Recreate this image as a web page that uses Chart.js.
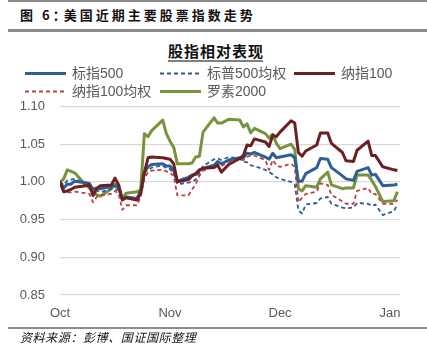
<!DOCTYPE html>
<html><head><meta charset="utf-8">
<script src="https://cdn.jsdelivr.net/npm/chart.js@4.4.1/dist/chart.umd.min.js"></script>
<style>
html,body{margin:0;padding:0;background:#fff;}
#wrap{position:relative;width:427px;height:356px;overflow:hidden;background:#fff;}
#cv{position:absolute;left:0;top:0;}
.hr{position:absolute;left:8px;width:419px;background:#8c8c8c;}
#t1{position:absolute;left:20px;top:5px;font:700 13px "Noto Sans CJK SC";letter-spacing:3px;color:#111;line-height:20px;white-space:nowrap;}
#t2{position:absolute;left:168px;top:41px;font:700 15px "Noto Sans CJK SC";letter-spacing:1px;color:#111;line-height:20px;white-space:nowrap;}
#t2u{position:absolute;left:168px;top:60px;width:95px;height:2px;background:#808080;}
.lg{position:absolute;font:14px "Liberation Sans","Noto Sans CJK SC",sans-serif;color:#595959;line-height:16px;white-space:nowrap;}
.lg svg{position:absolute;top:0;}
#src{position:absolute;left:20px;top:329px;font:italic 12px "Noto Sans CJK SC";letter-spacing:0.6px;color:#111;line-height:16px;white-space:nowrap;}
</style></head>
<body>
<div id="wrap">
<div class="hr" style="top:0;height:1.5px;"></div>
<div id="t1">图 6<span style="letter-spacing:-2px">：</span>美国近期主要股票指数走势</div>
<div class="hr" style="top:29px;height:2.5px;"></div>
<div id="t2">股指相对表现</div>
<div id="t2u"></div>
<canvas id="cv" width="427" height="356"></canvas>
<div id="legend"></div>
<div class="hr" style="top:326.5px;height:2px;"></div>
<div id="src">资料来源：彭博、国证国际整理</div>
</div>
<script>
// ---- data ----
const dates = [
 '2024-10-14','2024-10-15','2024-10-16','2024-10-17','2024-10-18','2024-10-21','2024-10-22','2024-10-23','2024-10-24','2024-10-25','2024-10-28','2024-10-29','2024-10-30','2024-10-31',
 '2024-11-01','2024-11-04','2024-11-05','2024-11-06','2024-11-07','2024-11-08','2024-11-11','2024-11-12','2024-11-13','2024-11-14','2024-11-15','2024-11-18','2024-11-19','2024-11-20','2024-11-21','2024-11-22','2024-11-25','2024-11-26','2024-11-27','2024-11-29',
 '2024-12-02','2024-12-03','2024-12-04','2024-12-05','2024-12-06','2024-12-09','2024-12-10','2024-12-11','2024-12-12','2024-12-13','2024-12-16','2024-12-17','2024-12-18','2024-12-19','2024-12-20','2024-12-23','2024-12-24','2024-12-26','2024-12-27','2024-12-30','2024-12-31',
 '2025-01-02','2025-01-03','2025-01-06','2025-01-07','2025-01-08','2025-01-10','2025-01-13','2025-01-14'
];
const spx = [
 1.000,0.992,0.997,0.997,1.001,0.999,0.998,0.990,0.992,0.991,0.994,0.995,0.992,0.977,
 0.980,0.978,0.988,1.013,1.020,1.023,1.024,1.021,1.021,1.015,1.001,1.006,1.009,1.010,1.015,1.018,1.022,1.027,1.024,1.029,
 1.032,1.032,1.038,1.037,1.039,1.033,1.030,1.038,1.032,1.033,1.036,1.032,1.001,1.001,1.011,1.019,1.031,1.030,1.019,1.008,1.004,
 1.002,1.014,1.019,1.009,1.010,0.995,0.996,0.997
];
const spxEW = [
 1.000,0.996,1.002,1.003,1.004,0.997,0.994,0.990,0.989,0.986,0.991,0.990,0.989,0.976,
 0.979,0.978,0.990,1.013,1.015,1.019,1.022,1.018,1.017,1.012,0.997,0.999,1.000,1.003,1.012,1.021,1.030,1.031,1.029,1.033,
 1.031,1.027,1.026,1.022,1.021,1.016,1.013,1.010,1.006,1.004,1.000,0.997,0.962,0.958,0.970,0.972,0.978,0.980,0.971,0.966,0.965,
 0.966,0.972,0.971,0.968,0.970,0.956,0.961,0.970
];
const ndx = [
 1.000,0.987,0.988,0.990,0.993,0.995,0.996,0.982,0.991,0.995,0.996,1.005,0.996,0.976,
 0.979,0.976,0.985,1.012,1.032,1.033,1.032,1.031,1.030,1.024,1.000,1.003,1.008,1.011,1.016,1.018,1.019,1.022,1.013,1.023,
 1.031,1.035,1.049,1.048,1.057,1.053,1.047,1.062,1.060,1.066,1.081,1.078,1.039,1.034,1.041,1.049,1.065,1.065,1.051,1.039,1.028,
 1.027,1.042,1.054,1.035,1.035,1.020,1.016,1.015
];
const ndxEW = [
 1.000,0.988,0.986,0.986,0.987,0.985,0.984,0.973,0.980,0.982,0.984,0.988,0.984,0.963,
 0.969,0.969,0.980,1.004,1.013,1.015,1.016,1.014,1.012,1.008,0.982,0.982,0.990,0.997,1.008,1.015,1.020,1.023,1.021,1.027,
 1.030,1.029,1.033,1.035,1.035,1.029,1.016,1.029,1.022,1.020,1.024,1.020,0.973,0.979,0.984,0.987,0.998,0.996,0.983,0.974,0.971,
 0.971,0.988,0.992,0.984,0.984,0.971,0.971,0.976
];
const rut = [
 1.000,1.004,1.016,1.014,1.012,0.996,0.992,0.987,0.983,0.981,0.991,0.997,0.992,0.977,
 0.985,0.987,0.989,1.064,1.060,1.068,1.082,1.064,1.054,1.046,1.024,1.024,1.025,1.033,1.034,1.066,1.085,1.078,1.078,1.083,
 1.082,1.073,1.077,1.065,1.071,1.064,1.058,1.063,1.051,1.044,1.050,1.043,0.991,0.988,0.995,0.993,1.004,1.013,0.996,0.991,0.992,
 0.992,1.009,1.009,1.002,0.994,0.974,0.975,0.987
];
const seriesNames = ['标指500','标普500均权','纳指100','纳指100均权','罗素2000'];
const monthLabels = ['Oct','Nov','Dec','Jan'];
const monthTickDates = ['2024-10-14','2024-11-13','2024-12-13','2025-01-12'];
const yTicks = [0.85,0.90,0.95,1.00,1.05,1.10];

// ---- helpers ----
const base = Date.parse(dates[0] + 'T00:00:00Z');
const dayOf = s => (Date.parse(s + 'T00:00:00Z') - base) / 86400000;
const xs = dates.map(dayOf);
const pts = arr => arr.map((v, i) => ({x: xs[i], y: v}));
const tickDays = monthTickDates.map(dayOf);

const styles = [
 {color:'#2f5f94', width:3, dash:[]},
 {color:'#2d5a98', width:1.8, dash:[4,3]},
 {color:'#6d2020', width:3, dash:[]},
 {color:'#bb4341', width:1.8, dash:[4,3]},
 {color:'#77933c', width:3, dash:[]}
];
const seriesData = [spx, spxEW, ndx, ndxEW, rut];
const drawOrder = [2, 4, 1, 3, 5]; // lower = on top

const datasets = seriesData.map((arr, i) => ({
  label: seriesNames[i],
  data: pts(arr),
  borderColor: styles[i].color,
  borderWidth: styles[i].width,
  borderDash: styles[i].dash,
  pointRadius: 0,
  tension: 0,
  fill: false,
  order: drawOrder[i],
  borderJoinStyle: 'round',
  borderCapStyle: 'butt'
}));

const tickFont = {family: '"Liberation Sans", Arial, sans-serif', size: 13};

new Chart(document.getElementById('cv'), {
  type: 'line',
  data: {datasets},
  options: {
    responsive: false,
    animation: false,
    devicePixelRatio: 1,
    layout: {padding: {left: 0, right: 27, top: 106.5, bottom: 0}},
    plugins: {legend: {display: false}, tooltip: {enabled: false}},
    scales: {
      x: {
        type: 'linear', min: 0, max: 92.7,
        grid: {display: false}, border: {display: false},
        afterBuildTicks: s => { s.ticks = tickDays.map(v => ({value: v})); },
        afterFit: s => { s.height = 61; },
        ticks: {autoSkip: false, maxRotation: 0, padding: 3, color: '#595959', font: tickFont,
                callback: (v, i) => monthLabels[i]}
      },
      y: {
        min: 0.85, max: 1.10,
        afterBuildTicks: s => { s.ticks = yTicks.map(v => ({value: v})); },
        afterFit: s => { s.width = 60; },
        grid: {color: '#d9d9d9', lineWidth: 1.3, drawTicks: false},
        border: {display: false},
        ticks: {padding: 15, color: '#595959', font: tickFont, callback: v => Number(v).toFixed(2)}
      }
    }
  }
});

// ---- legend (grid like the source) ----
const legendPos = [[25,65],[160,65],[294,65],[25,82.5],[160,82.5]];
const lg = document.getElementById('legend');
seriesNames.forEach((name, i) => {
  const [lx, ly] = legendPos[i];
  const d = document.createElement('div');
  d.className = 'lg';
  d.style.left = lx + 'px';
  d.style.top = ly + 'px';
  const st = styles[i];
  const dash = st.dash.length ? ` stroke-dasharray="${st.dash.join(',')}"` : '';
  d.innerHTML = `<svg width="42" height="16" style="left:0"><line x1="0" y1="8.5" x2="41" y2="8.5" stroke="${st.color}" stroke-width="${st.width}"${dash}/></svg><span style="position:absolute;left:47px;top:0">${name}</span>`;
  lg.appendChild(d);
});
</script>
</body></html>
